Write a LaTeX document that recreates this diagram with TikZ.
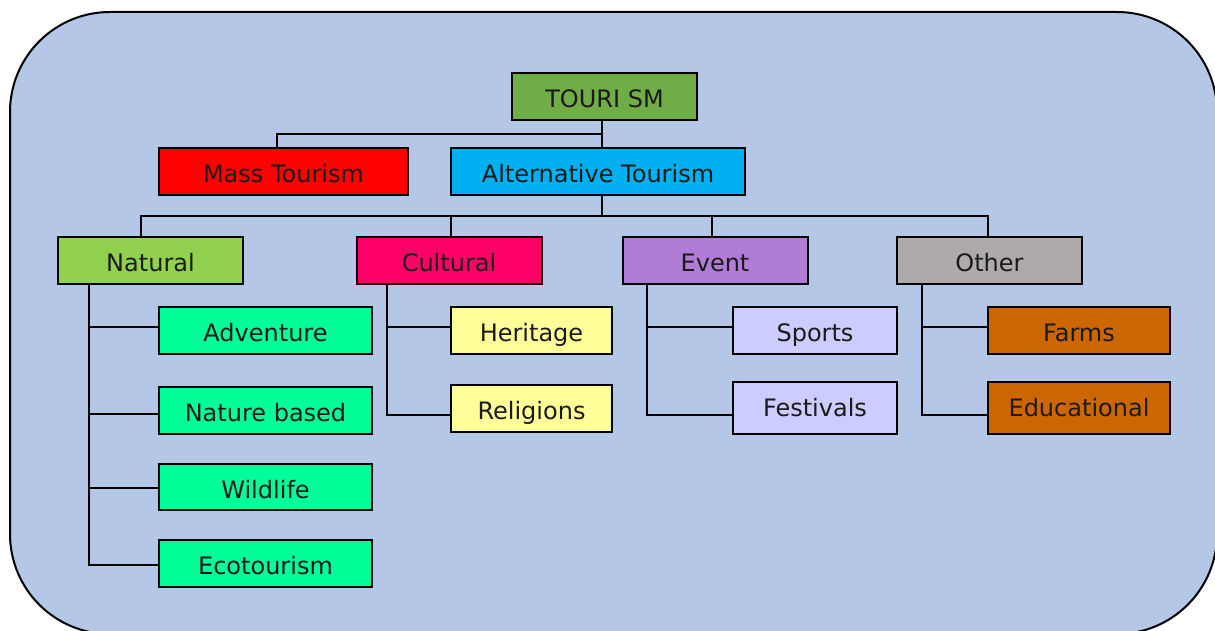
\documentclass[tikz,border=0pt]{standalone}
\usepackage{fontspec}
\setmainfont{DejaVu Sans}
\begin{document}
\definecolor{panel}{HTML}{B4C7E7}
\definecolor{rootc}{HTML}{70AD47}
\definecolor{massc}{HTML}{FF0000}
\definecolor{altc}{HTML}{00B0F0}
\definecolor{natc}{HTML}{92D050}
\definecolor{culc}{HTML}{FF0066}
\definecolor{evc}{HTML}{B07CD6}
\definecolor{othc}{HTML}{AEAAAA}
\definecolor{natchild}{HTML}{00FF99}
\definecolor{culchild}{HTML}{FFFF99}
\definecolor{evchild}{HTML}{CCCCFF}
\definecolor{othchild}{HTML}{CC6600}
\definecolor{ink}{HTML}{1A1A1A}
\begin{tikzpicture}[x=1pt,y=-1pt,
  box/.style={draw=black, line width=2pt, rectangle, inner sep=0pt,
    minimum height=47pt, text height=22.6pt, text depth=0pt, text=ink,
    font=\fontsize{24}{28}\selectfont},
  link/.style={draw=black, line width=2pt}]
\useasboundingbox (0,0) rectangle (1215,631);
% rounded background panel, running off the right and bottom edges
\begin{scope}
  \clip (0,0) rectangle (1215,631);
  \draw[fill=panel, line width=2pt, rounded corners=100pt] (10,12) rectangle (1217,634);
\end{scope}

% top levels
\node[box, fill=rootc, minimum width=185pt] (tour) at (604.5,96.5) {TOURI SM};
\node[box, fill=massc, minimum width=249pt] (mass) at (283.5,171.5) {Mass Tourism};
\node[box, fill=altc, minimum width=294pt] (alt) at (598,171.5) {Alternative Tourism};

% categories
\node[box, fill=natc, minimum width=185pt] (nat) at (150.5,260.5) {Natural};
\node[box, fill=culc, minimum width=185pt] (cul) at (449,260.5) {Cultural};
\node[box, fill=evc, minimum width=185pt] (ev) at (715,260.5) {Event};
\node[box, fill=othc, minimum width=185pt] (oth) at (989.5,260.5) {Other};

% natural
\node[box, fill=natchild, minimum width=213pt] (adv) at (265.5,330.5) {Adventure};
\node[box, fill=natchild, minimum width=213pt] (nb) at (265.5,410.5) {Nature based};
\node[box, fill=natchild, minimum width=213pt, minimum height=46pt] (wild) at (265.5,487) {Wildlife};
\node[box, fill=natchild, minimum width=213pt] (eco) at (265.5,563.5) {Ecotourism};

% cultural
\node[box, fill=culchild, minimum width=161pt] (her) at (531.5,330.5) {Heritage};
\node[box, fill=culchild, minimum width=161pt] (rel) at (531.5,408) {Religions};

% event
\node[box, fill=evchild, minimum width=164pt] (spo) at (815,330.5) {Sports};
\node[box, fill=evchild, minimum width=164pt, minimum height=52pt, text height=17.4pt] (fest) at (815,408) {Festivals};

% other
\node[box, fill=othchild, minimum width=182pt] (farm) at (1079,330.5) {Farms};
\node[box, fill=othchild, minimum width=182pt, minimum height=52pt, text height=17.4pt] (edu) at (1079,408) {Educational};

% connectors: root to first level
\coordinate (j1) at ([xshift=-2.5pt]tour.south);
\draw[link] (j1) -- ([xshift=4pt]alt.north);
\draw[link] ([yshift=-13pt]j1) -| ([xshift=-6.5pt]mass.north);

% alternative to categories
\coordinate (j2) at ([xshift=4pt]alt.south);
\coordinate (bar) at ([yshift=-20pt]j2);
\draw[link] (j2) -- (bar);
\draw[link] (bar) -| ([xshift=-9.5pt]nat.north);
\draw[link] (bar) -| ([xshift=-1.5pt]oth.north);
\draw[link] ([xshift=2pt]cul.north |- bar) -- ([xshift=2pt]cul.north);
\draw[link] ([xshift=-3pt]ev.north |- bar) -- ([xshift=-3pt]ev.north);

% category trunks to children
\coordinate (tn) at ([xshift=32pt]nat.south west);
\draw[link] (tn) |- ([yshift=3.5pt]adv.west);
\draw[link] (tn) |- ([yshift=-3.5pt]nb.west);
\draw[link] (tn) |- ([yshift=-1pt]wild.west);
\draw[link] (tn) |- ([yshift=-1.3pt]eco.west);

\coordinate (tc) at ([xshift=31pt]cul.south west);
\draw[link] (tc) |- ([yshift=3.5pt]her.west);
\draw[link] (tc) |- ([yshift=-7pt]rel.west);

\coordinate (te) at ([xshift=25pt]ev.south west);
\draw[link] (te) |- ([yshift=3.5pt]spo.west);
\draw[link] (te) |- ([yshift=-6.7pt]fest.west);

\coordinate (to) at ([xshift=26pt]oth.south west);
\draw[link] (to) |- ([yshift=3.5pt]farm.west);
\draw[link] (to) |- ([yshift=-6.7pt]edu.west);
\end{tikzpicture}
\end{document}
